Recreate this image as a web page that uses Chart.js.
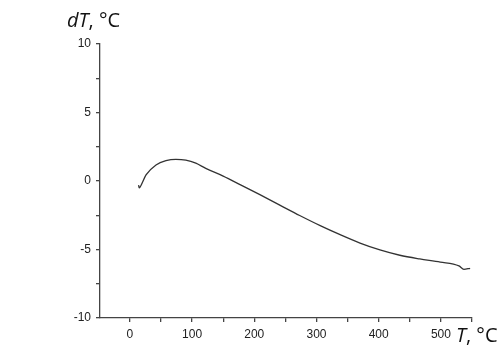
<!DOCTYPE html>
<html>
<head>
<meta charset="utf-8">
<script src="https://cdn.jsdelivr.net/npm/chart.js@4"></script>
<style>
  html, body { margin: 0; padding: 0; background: #fff; }
  #wrap { width: 500px; height: 345px; }
</style>
</head>
<body>
<div id="wrap"><canvas id="chart" width="500" height="345"></canvas></div>
<script>
// temperature T, °C
const temps = [14, 15, 17, 26, 42, 58, 74, 90, 106, 122, 150, 178, 209, 241, 273, 306, 338, 370, 402, 434, 466, 499, 529, 537, 547];
// dT, °C
const dT = [-0.3, -0.5, -0.4, 0.44, 1.17, 1.48, 1.58, 1.52, 1.3, 0.92, 0.36, -0.28, -1.0, -1.76, -2.52, -3.26, -3.92, -4.53, -5.03, -5.42, -5.69, -5.92, -6.2, -6.45, -6.37];

const xMajor = [0, 100, 200, 300, 400, 500];
const yMajor = [-10, -5, 0, 5, 10];

const axisColor = "#444";

const titles = {
  id: "axisTitles",
  afterDraw(chart) {
    const ctx = chart.ctx;
    ctx.save();
    ctx.fillStyle = "#111";
    ctx.textBaseline = "alphabetic";
    ctx.textAlign = "left";
    const draw = (x, y, italic, rest) => {
      ctx.font = "italic 20px 'Open Sans'";
      ctx.fillText(italic, x, y);
      const w = ctx.measureText(italic).width;
      ctx.font = "20px 'Open Sans'";
      ctx.fillText(rest, x + w, y);
    };
    draw(67, 27, "dT", ", °C");
    draw(456, 342, "T", ", °C");
    ctx.restore();
  }
};

new Chart(document.getElementById("chart"), {
  type: "scatter",
  data: {
    datasets: [{
      data: temps.map((t, i) => ({ x: t, y: dT[i] })),
      showLine: true,
      borderColor: "#333",
      borderWidth: 1.3,
      pointRadius: 0,
      cubicInterpolationMode: "monotone",
      fill: false
    }]
  },
  options: {
    responsive: false,
    animation: false,
    layout: { padding: { top: 44, right: 28, left: 0, bottom: 0 } },
    plugins: { legend: { display: false }, tooltip: { enabled: false } },
    scales: {
      x: {
        type: "linear",
        min: -48,
        max: 550,
        afterFit: (s) => { s.height = 27; },
        afterBuildTicks: (s) => {
          const t = [];
          for (let v = 0; v <= 550; v += 50) t.push({ value: v });
          s.ticks = t;
        },
        border: { display: true, color: axisColor, width: 1.3 },
        grid: { display: true, drawOnChartArea: false, drawTicks: true, tickLength: 4, color: axisColor, lineWidth: 1.3 },
        ticks: {
          autoSkip: false,
          maxRotation: 0,
          padding: 5,
          color: "#222",
          font: { family: "'Liberation Sans', Arial", size: 12 },
          callback: (v) => xMajor.includes(v) ? String(v) : ""
        }
      },
      y: {
        type: "linear",
        min: -10,
        max: 10,
        afterFit: (s) => { s.width = 100; },
        border: { display: true, color: axisColor, width: 1.3 },
        grid: { display: true, drawOnChartArea: false, drawTicks: true, tickLength: 4, color: axisColor, lineWidth: 1.3 },
        ticks: {
          stepSize: 2.5,
          autoSkip: false,
          padding: 5,
          color: "#222",
          font: { family: "'Liberation Sans', Arial", size: 12 },
          callback: (v) => yMajor.includes(v) ? String(v) : ""
        }
      }
    }
  },
  plugins: [titles]
});
</script>
</body>
</html>
